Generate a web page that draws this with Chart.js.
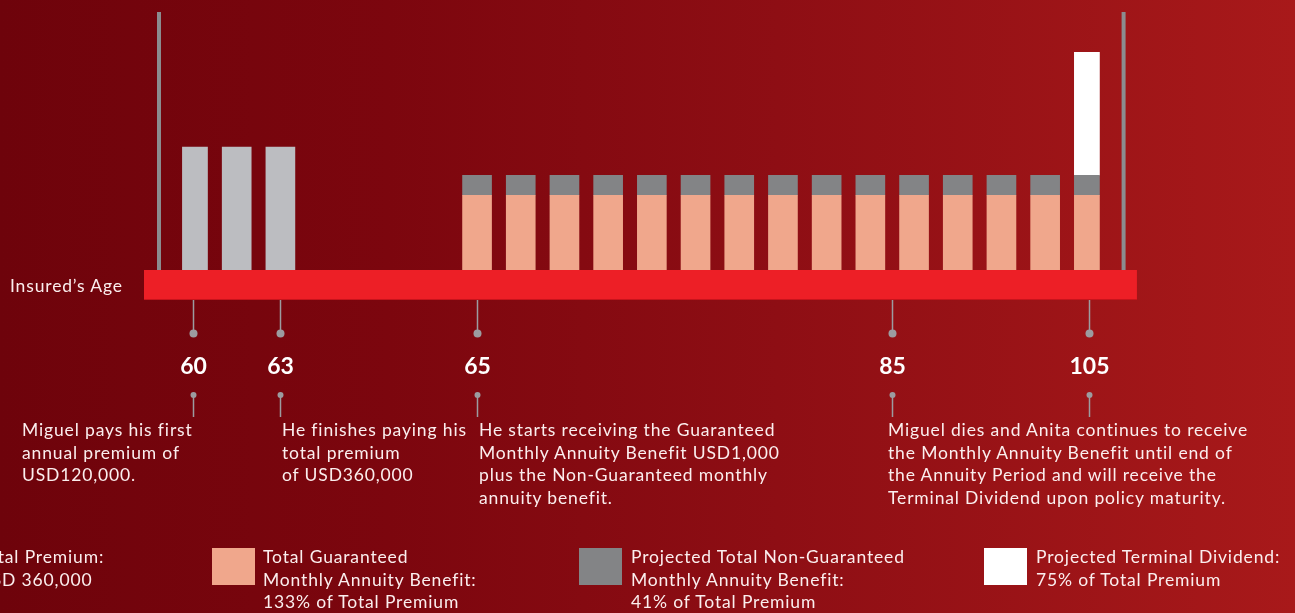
<!DOCTYPE html>
<html>
<head>
<meta charset="utf-8">
<script src="https://cdn.jsdelivr.net/npm/chart.js@4.4.1/dist/chart.umd.min.js"></script>
<style>
  html, body { margin:0; padding:0; }
  body {
    width:1295px; height:613px; overflow:hidden; position:relative;
    background: linear-gradient(90deg, #6e030b 0%, #7c060e 30%, #8e0e14 60%, #a8191a 100%);
    font-family: Lato, "Open Sans", sans-serif; color:#fff;
  }
  #wrap { position:absolute; left:0; top:0; width:1295px; height:613px; }
  .txt { position:absolute; font-size:17.5px; letter-spacing:0.85px; line-height:22.5px; color:#fbeeee; white-space:nowrap; }
  .sw { position:absolute; width:43px; height:37px; }
</style>
</head>
<body>
<div id="wrap"><canvas id="c" width="1295" height="613"></canvas></div>

<div class="txt" style="left:10px; top:275px;">Insured’s Age</div>

<div class="txt" style="left:22px; top:419px;">Miguel pays his first<br>annual premium of<br>USD120,000.</div>
<div class="txt" style="left:282px; top:419px;">He finishes paying his<br>total premium<br>of USD360,000</div>
<div class="txt" style="left:479px; top:419px;">He starts receiving the Guaranteed<br>Monthly Annuity Benefit USD1,000<br>plus the Non-Guaranteed monthly<br>annuity benefit.</div>
<div class="txt" style="left:888px; top:419px;">Miguel dies and Anita continues to receive<br>the Monthly Annuity Benefit until end of<br>the Annuity Period and will receive the<br>Terminal Dividend upon policy maturity.</div>

<div class="sw" style="left:-160px; top:548px; background:#bcbdc1;"></div>
<div class="txt" style="left:-22px; top:546px;">Total Premium:<br>USD 360,000</div>
<div class="sw" style="left:212px; top:548px; background:#f0a78c;"></div>
<div class="txt" style="left:263px; top:546px;">Total Guaranteed<br>Monthly Annuity Benefit:<br>133% of Total Premium</div>
<div class="sw" style="left:579px; top:548px; background:#838486;"></div>
<div class="txt" style="left:631px; top:546px;">Projected Total Non-Guaranteed<br>Monthly Annuity Benefit:<br>41% of Total Premium</div>
<div class="sw" style="left:984px; top:548px; background:#ffffff;"></div>
<div class="txt" style="left:1036px; top:546px;">Projected Terminal Dividend:<br>75% of Total Premium</div>

<script>
// ---- data (bar heights in USD-equivalent picture units) ----
const premiumLabels = ['Premium year 1', 'Premium year 2', 'Premium year 3'];
const premiumValues = [120000, 120000, 120000];

const annuityLabels = ['Annuity 1','Annuity 2','Annuity 3','Annuity 4','Annuity 5','Annuity 6','Annuity 7','Annuity 8',
                       'Annuity 9','Annuity 10','Annuity 11','Annuity 12','Annuity 13','Annuity 14','Annuity 15'];
const guaranteedValues    = [73000, 73000, 73000, 73000, 73000, 73000, 73000, 73000, 73000, 73000, 73000, 73000, 73000, 73000, 73000];
const nonGuaranteedValues = [19500, 19500, 19500, 19500, 19500, 19500, 19500, 19500, 19500, 19500, 19500, 19500, 19500, 19500, 19500];
const terminalValues      = [0, 0, 0, 0, 0, 0, 0, 0, 0, 0, 0, 0, 0, 0, 120000];

const ageLabels = ['60', '63', '65', '85', '105'];

// ---- layout: slots on a category axis ----
const SLOT_COUNT = 42;
const premiumSlot = i => 2 * i;
const annuitySlot = j => 13 + 2 * j;
const ageSlots = [0, 4, 13, 32, 41];

const categories = new Array(SLOT_COUNT).fill('');
const premiumData = new Array(SLOT_COUNT).fill(null);
const guarData = new Array(SLOT_COUNT).fill(null);
const nonGuarData = new Array(SLOT_COUNT).fill(null);
const termData = new Array(SLOT_COUNT).fill(null);
premiumLabels.forEach((l, i) => { categories[premiumSlot(i)] = l; premiumData[premiumSlot(i)] = premiumValues[i]; });
annuityLabels.forEach((l, j) => {
  const k = annuitySlot(j);
  categories[k] = l;
  guarData[k] = guaranteedValues[j];
  nonGuarData[k] = nonGuaranteedValues[j];
  termData[k] = terminalValues[j] || null;
});

const decor = {
  id: 'decor',
  beforeDatasetsDraw(chart) {
    const {ctx, chartArea, scales:{x}} = chart;
    ctx.save();
    ctx.fillStyle = '#8b8c8f';
    [-1.556, 42.59].forEach(v => {
      const px = x.getPixelForValue(v);
      ctx.fillRect(px - 2, chartArea.top - 2, 4, chartArea.bottom - chartArea.top + 2);
    });
    ctx.restore();
  },
  afterDatasetsDraw(chart) {
    const {ctx, chartArea, scales:{x}} = chart;
    const b = chartArea.bottom;
    ctx.save();
    // red age band
    const l = x.getPixelForValue(-2.243), r = x.getPixelForValue(43.2);
    ctx.fillStyle = '#ed1f26';
    ctx.fillRect(l, b, r - l, 30);
    ctx.fillStyle = '#c8141c';
    ctx.fillRect(l, b + 29, r - l, 1);
    // age markers
    ageSlots.forEach((s, i) => {
      const px = Math.round(x.getPixelForValue(s)) + 0.5;
      ctx.strokeStyle = '#9c9ca0';
      ctx.lineWidth = 1.5;
      ctx.beginPath(); ctx.moveTo(px, b + 30); ctx.lineTo(px, b + 63); ctx.stroke();
      ctx.fillStyle = '#9c9ca0';
      ctx.beginPath(); ctx.arc(px, b + 63.5, 4, 0, Math.PI * 2); ctx.fill();
      ctx.beginPath(); ctx.moveTo(px, b + 125); ctx.lineTo(px, b + 147); ctx.stroke();
      ctx.beginPath(); ctx.arc(px, b + 125, 3, 0, Math.PI * 2); ctx.fill();
      ctx.fillStyle = '#ffffff';
      ctx.font = 'bold 23px Lato, "Open Sans", sans-serif';
      ctx.textAlign = 'center';
      ctx.textBaseline = 'middle';
      ctx.fillText(ageLabels[i], px, b + 97);
    });
    ctx.restore();
  }
};

new Chart(document.getElementById('c'), {
  type: 'bar',
  data: {
    labels: categories,
    datasets: [
      { label: 'Total Premium', data: premiumData, backgroundColor: '#bcbdc1' },
      { label: 'Total Guaranteed Monthly Annuity Benefit', data: guarData, backgroundColor: '#f0a78c' },
      { label: 'Projected Total Non-Guaranteed Monthly Annuity Benefit', data: nonGuarData, backgroundColor: '#838486' },
      { label: 'Projected Terminal Dividend', data: termData, backgroundColor: '#ffffff' }
    ].map(d => Object.assign(d, { barThickness: 29, borderWidth: 0, borderSkipped: false }))
  },
  options: {
    responsive: false,
    animation: false,
    devicePixelRatio: 1,
    layout: { padding: { left: 182.075, right: 195.225, top: 14, bottom: 343 } },
    scales: {
      x: { display: false, stacked: true, offset: true },
      y: { display: false, stacked: true, min: 0, max: 250000 }
    },
    plugins: { legend: { display: false }, tooltip: { enabled: false } }
  },
  plugins: [decor]
});
</script>
</body>
</html>
